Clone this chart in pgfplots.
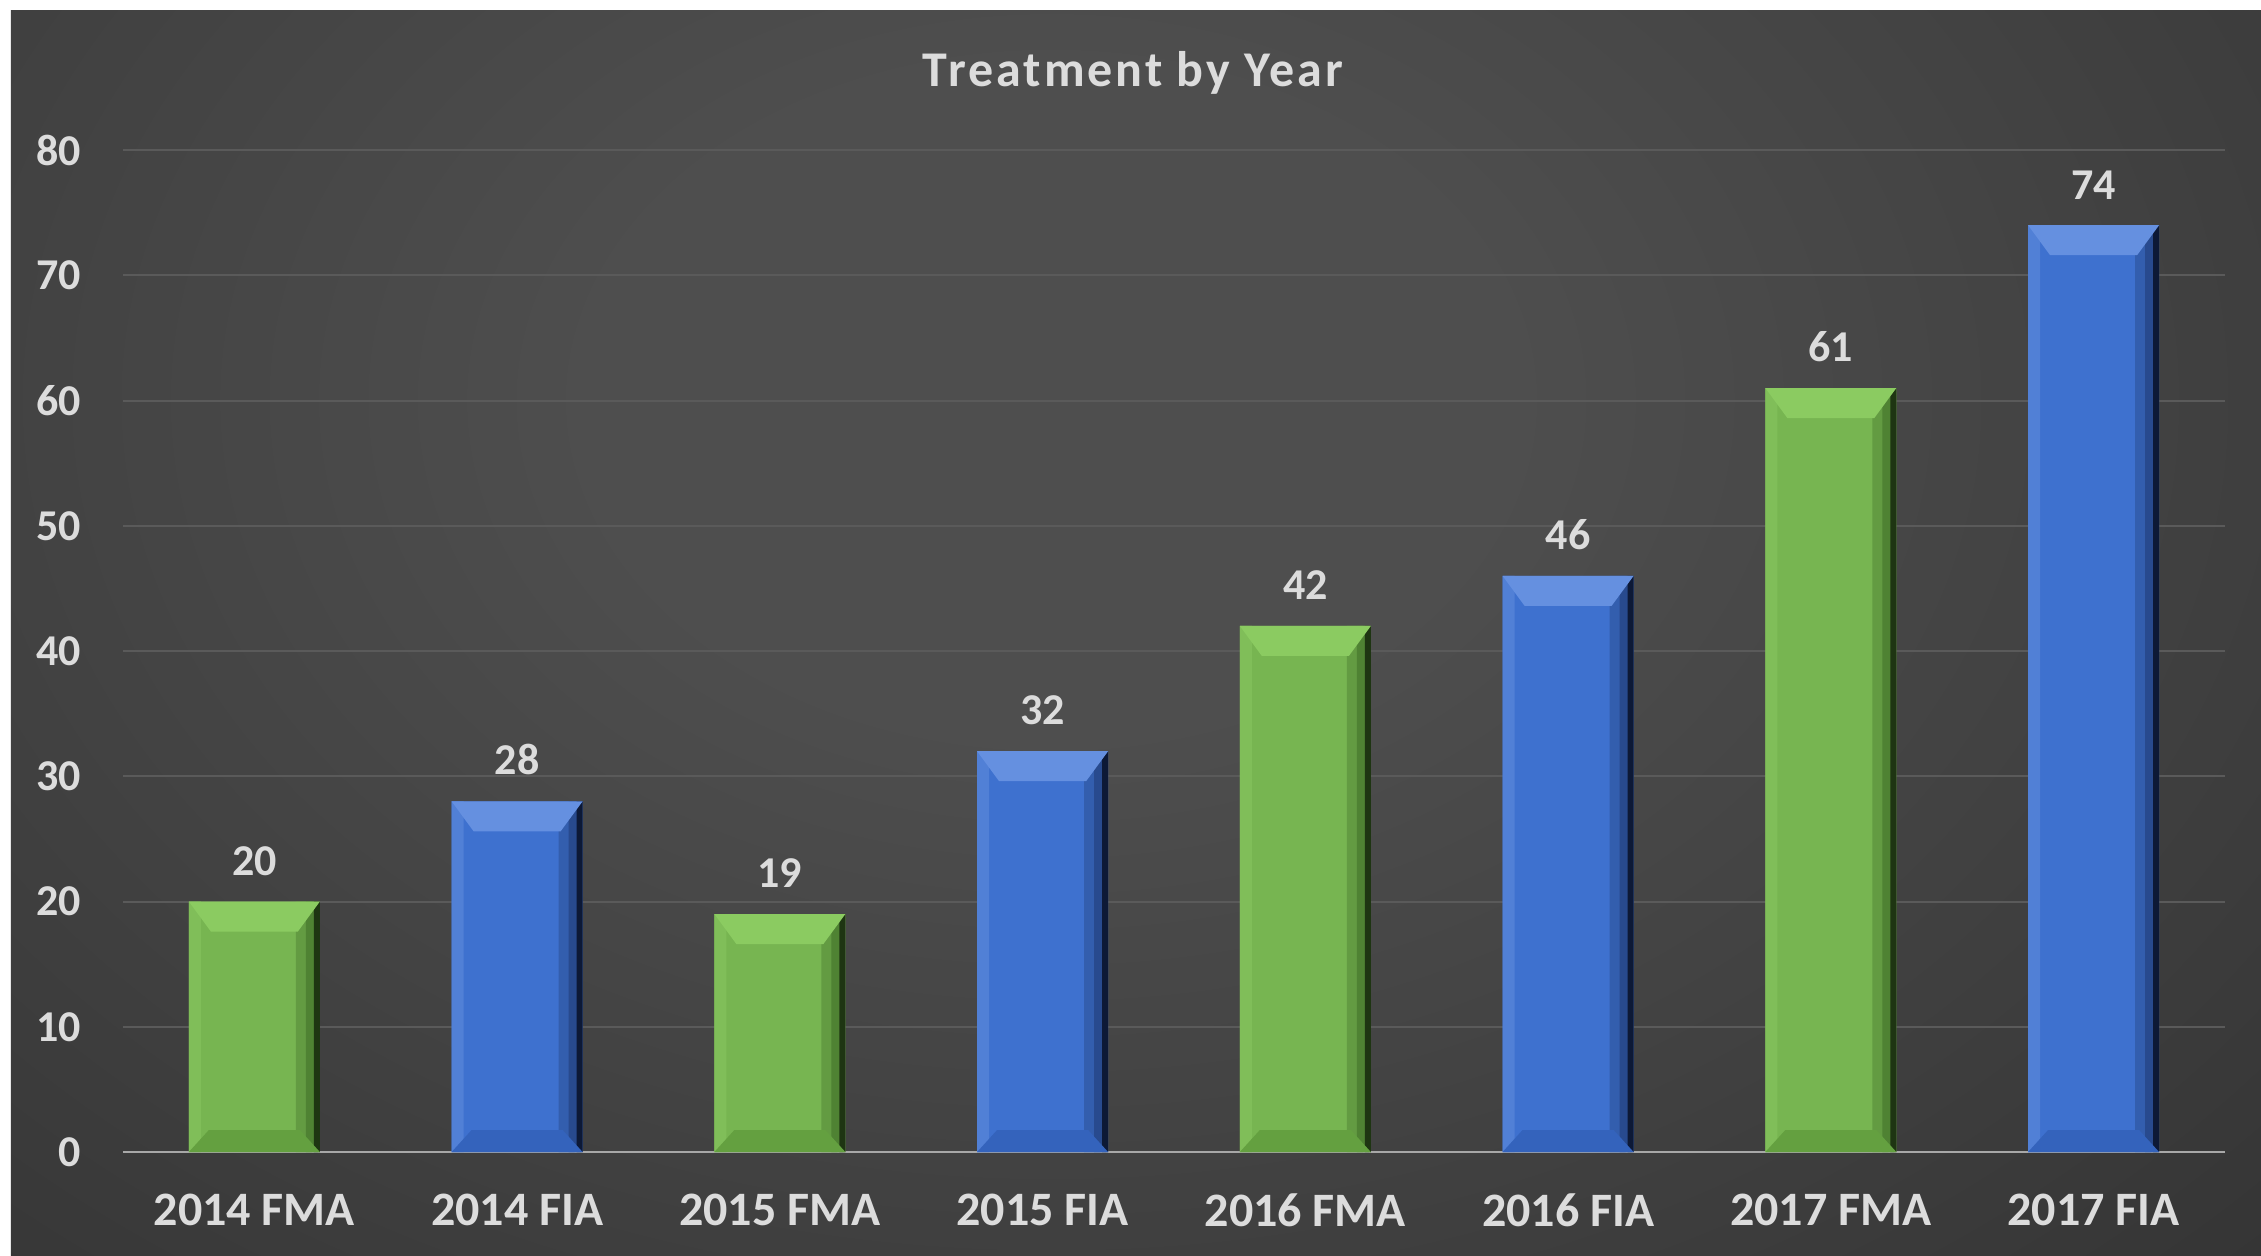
\documentclass[border=0pt]{standalone}
\usepackage{pgfplots}
\usepackage{pgfplotstable}
\pgfplotsset{compat=1.18}
\usepackage{fontspec}
\setmainfont{Carlito}
\definecolor{txt}{HTML}{DCDCDC}
\definecolor{bgC}{HTML}{4E4E4E}
\definecolor{bgO}{HTML}{272727}
\definecolor{bgM}{HTML}{2B2B2B}
\definecolor{gL}{HTML}{80BE59}
\definecolor{gB}{HTML}{77B551}
\definecolor{gD}{HTML}{4F8233}
\definecolor{gDD}{HTML}{1E3512}
\definecolor{gM}{HTML}{8BCB61}
\definecolor{gK}{HTML}{64A040}
\definecolor{bL}{HTML}{5180D6}
\definecolor{bB}{HTML}{3E71CF}
\definecolor{bD}{HTML}{284A8E}
\definecolor{bDD}{HTML}{0D1936}
\definecolor{bM}{HTML}{6590E0}
\definecolor{bK}{HTML}{3463BC}
\definecolor{gridc}{HTML}{5A5A5A}
\definecolor{axc}{HTML}{A8A8A8}
\pgfdeclareradialshading{bgrad}{\pgfpoint{0bp}{0bp}}{color(0bp)=(bgC); color(8bp)=(bgC); color(38bp)=(bgM); color(50bp)=(bgO)}
\pgfplotstableread{
x y
0 20
2 19
4 42
6 61
}\fma
\pgfplotstableread{
x y
1 28
3 32
5 46
7 74
}\fia
\pgfplotsset{
  strip/.style n args={3}{draw=none, fill=#1, bar width=#2, bar shift=#3, nodes near coords={}, every node near coord/.style={draw=none, fill=none, inner sep=0pt}},
  bevtop/.style={draw=none, fill=none, nodes near coords={},
    every node near coord/.style={shape=rectangle, minimum width=32.75pt, minimum height=7.5pt,
      inner sep=0pt, outer sep=0pt, anchor=north, draw=none,
      path picture={\fill[#1] (path picture bounding box.north west) -- (path picture bounding box.north east)
        -- ([xshift=-5.5pt]path picture bounding box.south east) -- ([xshift=5.5pt]path picture bounding box.south west) -- cycle;}}},
  bevbot/.style={draw=none, fill=none, nodes near coords={},
    every node near coord/.style={shape=rectangle, minimum width=32.75pt, minimum height=5.5pt,
      inner sep=0pt, outer sep=0pt, anchor=south, draw=none,
      path picture={\fill[#1] (path picture bounding box.south west) -- (path picture bounding box.south east)
        -- ([xshift=-5pt]path picture bounding box.north east) -- ([xshift=5pt]path picture bounding box.north west) -- cycle;}}},
}
\begin{document}
\begin{tikzpicture}
\fill[white] (-30.75pt,-25.75pt) rectangle (534.5pt,288pt);
\begin{scope}
\clip (-28pt,-25.75pt) rectangle (534.5pt,285.25pt);
\fill[bgO] (-28pt,-25.75pt) rectangle (534.5pt,285.25pt);
\shade[shading=bgrad] (-128pt,-72pt) rectangle (592pt,448pt);
\end{scope}
\node[font=\bfseries\fontsize{12.5}{14}\selectfont\addfontfeatures{LetterSpace=6}, text=txt] at (252.5pt,269.75pt) {Treatment by Year};
\begin{axis}[
  at={(0,0)}, anchor=south west,
  scale only axis, width=525.5pt, height=250.5pt,
  xmin=-0.5, xmax=7.5, ymin=0, ymax=80,
  ytick={0,10,...,80},
  xtick={0,...,7},
  xticklabels={2014 FMA,2014 FIA,2015 FMA,2015 FIA,2016 FMA,2016 FIA,2017 FMA,2017 FIA},
  axis lines*=left,
  y axis line style={draw=none},
  x axis line style={draw=axc, line width=0.7pt},
  major tick length=0pt,
  ymajorgrids, grid style={draw=gridc, line width=0.5pt},
  /pgf/number format/assume math mode=true,
  yticklabel style={font=\bfseries\fontsize{11}{12}\selectfont, text=txt, xshift=-7pt},
  xticklabel style={font=\bfseries\fontsize{12}{13}\selectfont, text=txt, yshift=-7pt},
  ybar, bar width=32.75pt, bar shift=0pt,
  clip=false,
]
% main bars with value labels
\addplot[draw=none, fill=gB, nodes near coords,
  every node near coord/.append style={font=\bfseries\fontsize{11}{12}\selectfont, text=txt, yshift=3pt}] table {\fma};
\addplot[draw=none, fill=bB, nodes near coords,
  every node near coord/.append style={font=\bfseries\fontsize{11}{12}\selectfont, text=txt, yshift=3pt}] table {\fia};
% side shading strips
\addplot[strip={gL}{3pt}{-14.875pt}] table {\fma};
\addplot[strip={gD!50!gB}{4pt}{12.375pt}] table {\fma};
\addplot[strip={gD}{3pt}{14.375pt}] table {\fma};
\addplot[strip={gDD}{1.5pt}{15.625pt}] table {\fma};
\addplot[strip={bL}{3pt}{-14.875pt}] table {\fia};
\addplot[strip={bD!50!bB}{4pt}{12.375pt}] table {\fia};
\addplot[strip={bD}{3pt}{14.375pt}] table {\fia};
\addplot[strip={bDD}{1.5pt}{15.625pt}] table {\fia};
% bevels
\addplot[bevtop=gM] table {\fma};
\addplot[bevtop=bM] table {\fia};
\addplot[bevbot=gK] table[y expr=0] {\fma};
\addplot[bevbot=bK] table[y expr=0] {\fia};
\end{axis}
\end{tikzpicture}
\end{document}
